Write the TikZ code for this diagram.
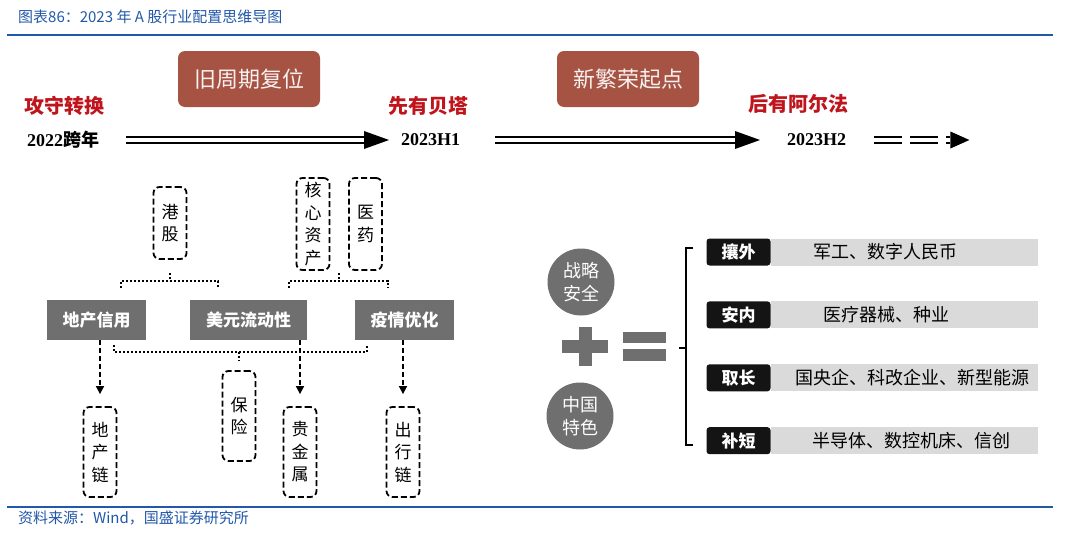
\documentclass[tikz,border=0pt]{standalone}
\usepackage{fontspec}
\setmainfont{Liberation Serif}
\newfontfamily\cjk{Noto Sans CJK SC}
\usetikzlibrary{arrows.meta, positioning, calc}

\definecolor{titleblue}{HTML}{2258A8}
\definecolor{brick}{HTML}{A65343}
\definecolor{stagered}{HTML}{C0141C}
\definecolor{boxgray}{HTML}{6F6F6F}
\definecolor{bargray}{HTML}{DADADA}

\begin{document}
\begin{tikzpicture}[
    x=1pt, y=-1pt, every node/.style={inner sep=0pt, align=center},
    heading/.style={text=titleblue, font=\cjk\fontsize{15}{18}\selectfont},
    phase/.style={rectangle, rounded corners=7pt, fill=brick, text=white!92!brick, minimum width=142pt, minimum height=56pt, font=\cjk\fontsize{22}{26}\selectfont},
    stage/.style={text=stagered, font=\cjk\bfseries\fontsize{20}{24}\selectfont},
    period/.style={font=\bfseries\fontsize{18}{22}\selectfont},
    timeline/.style={line width=2.6pt, double=white, double distance=3.6pt, -{Triangle[length=25pt, width=18pt, line width=0pt]}},
    driver/.style={rectangle, fill=boxgray, text=white, minimum width=99pt, minimum height=40pt, font=\cjk\bfseries\fontsize{17}{20}\selectfont},
    sector/.style={rectangle, draw, line width=1.8pt, dash pattern=on 6pt off 3pt, rounded corners=6pt, minimum width=33pt, minimum height=90pt, font=\cjk\fontsize{17}{22.5}\selectfont},
    link/.style={line width=2pt, dotted},
    arrow/.style={line width=1.6pt, dash pattern=on 5pt off 3pt, -{Triangle[length=8pt, width=8pt]}},
    theme/.style={circle, fill=boxgray, text=white, minimum size=67pt, font=\cjk\fontsize{18}{23}\selectfont},
    tag/.style={rectangle, rounded corners=3pt, fill=black!92, text=white, minimum width=64pt, minimum height=27pt, font=\cjk\bfseries\fontsize{17}{20}\selectfont},
    bar/.style={rectangle, fill=bargray, minimum width=267pt, minimum height=27pt},
    bartext/.style={font=\cjk\fontsize{18}{20}\selectfont}
]
\useasboundingbox (0,0) rectangle (1080,538);

% Title, rules and source
\node[heading, anchor=west] (title) at (18,17) {图表86：2023 年 A 股行业配置思维导图};
\draw[titleblue, line width=2pt] (7,35) -- (1053,35);
\draw[titleblue, line width=2.5pt] (7,507) -- (1053,507);
\node[heading, anchor=west] (source) at (18,518) {资料来源：Wind，国盛证券研究所};

% Timeline
\node[phase] (old) at (249,79) {旧周期复位};
\node[phase] (new) at (628,79) {新繁荣起点};
\node[stage, anchor=west] (s1) at (24,106) {攻守转换};
\node[stage, anchor=west] (s2) at (388,106) {先有贝塔};
\node[stage, anchor=west] (s3) at (748,104) {后有阿尔法};
\node[period, anchor=west] (y22) at (27,140) {2022{\cjk 跨年}};
\node[period, anchor=west] (h1) at (401,140) {2023H1};
\node[period, anchor=west] (h2) at (787,140) {2023H2};
\coordinate[right=123pt of h2.east] (future);

\draw[timeline, shorten <=27pt, shorten >=12pt] (y22.east) -- (h1.west);
\draw[timeline, shorten <=35pt, shorten >=27pt] (h1.east) -- (h2.west);
\draw[timeline, dash pattern=on 28pt off 8pt, shorten <=28pt, -{Triangle[length=19pt, width=17pt, line width=0pt]}] (h2.east) -- (future);

% Drivers and sectors
\node[sector, minimum height=72pt] (hk) at (170,223) {港\\股};
\node[sector, minimum height=92pt] (core) at (313,224) {核\\心\\资\\产};
\node[sector, minimum height=92pt] (med) at (365.5,224) {医\\药};
\node[driver] (dcxy) at (96.5,320) {地产信用};
\node[driver, minimum width=117pt] (usd) at (248.5,320) {美元流动性};
\node[driver] (covid) at (404.5,320) {疫情优化};
\node[sector] (ins) at (239,416) {保\\险};
\node[sector] (dcc) at (100,452) {地\\产\\链};
\node[sector] (metal) at (300,452) {贵\\金\\属};
\node[sector] (travel) at (403,452) {出\\行\\链};

% Dotted brackets
\draw[link] ([xshift=24pt, yshift=12pt]dcxy.north) |- ([yshift=-21pt]hk.south) -| ([xshift=-30.5pt, yshift=12pt]usd.north);
\draw[link] ([yshift=-13pt]hk.south) -- ([yshift=-21pt]hk.south);
\coordinate (cm) at ($(core.south)!0.5!(med.south)$);
\draw[link] ([xshift=40.5pt, yshift=12pt]usd.north) |- ([yshift=-10pt]cm) -| ([xshift=-16.5pt, yshift=12pt]covid.north);
\draw[link] ([yshift=-2pt]cm) -- ([yshift=-10pt]cm);
\draw[link] ([xshift=17.5pt, yshift=-5pt]dcxy.south) |- ([yshift=18pt]ins.north) -| ([xshift=-37.5pt, yshift=-5pt]covid.south);
\draw[link] ([yshift=18pt]ins.north) -- ([yshift=9pt]ins.north);

% Dashed arrows
\draw[arrow] (dcxy.south -| dcc.north) -- ([yshift=12pt]dcc.north);
\draw[arrow] (usd.south -| metal.north) -- ([yshift=12pt]metal.north);
\draw[arrow] (covid.south -| travel.north) -- ([yshift=12pt]travel.north);

% Right: strategy
\node[theme] (secure) at (581,282) {战略\\安全};
\node[theme] (china) at (580,416) {中国\\特色};
\fill[boxgray] (562,340) rectangle (608,353);
\fill[boxgray] (578.5,327) rectangle (591.5,366);
\fill[boxgray] (623,332) rectangle (666,343);
\fill[boxgray] (623,349) rectangle (666,361);
\draw[line width=2pt] (693,248) -| (686,445) -- (693,445);
\draw[line width=2pt] (686,348) -- (679,348);

\node[tag] (t1) at (738.5,252) {攘外};
\node[tag, below=35.5pt of t1] (t2) {安内};
\node[tag, below=35.5pt of t2] (t3) {取长};
\node[tag, below=35.5pt of t3] (t4) {补短};
\node[bar, right=0pt of t1] (b1) {};
\node[bar, right=0pt of t2] (b2) {};
\node[bar, right=0pt of t3] (b3) {};
\node[bar, right=0pt of t4] (b4) {};
\node[bartext] (l1) at ([xshift=-18.5pt]b1.center) {军工、数字人民币};
\node[bartext] (l2) at ([xshift=-17.5pt]b2.center) {医疗器械、种业};
\node[bartext] (l3) at ([xshift=8.5pt]b3.center) {国央企、科改企业、新型能源};
\node[bartext] (l4) at ([xshift=7.5pt]b4.center) {半导体、数控机床、信创};

\end{tikzpicture}
\end{document}
